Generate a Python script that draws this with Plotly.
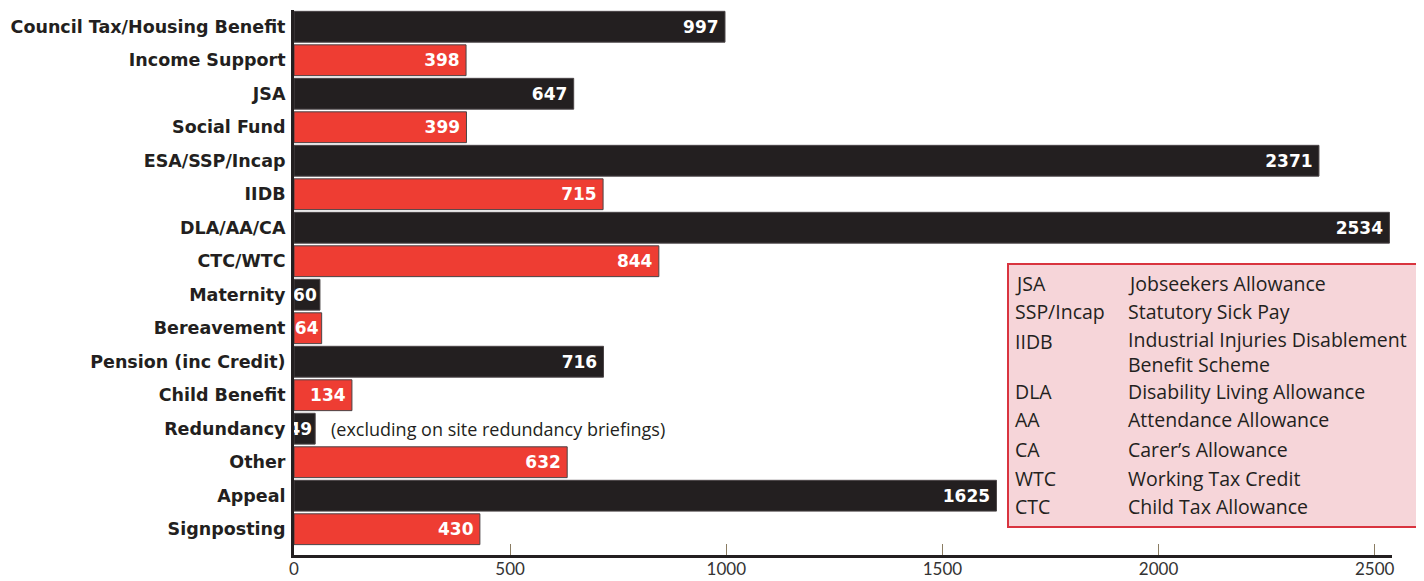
import plotly.graph_objects as go

categories = [
    "Council Tax/Housing Benefit", "Income Support", "JSA", "Social Fund",
    "ESA/SSP/Incap", "IIDB", "DLA/AA/CA", "CTC/WTC", "Maternity",
    "Bereavement", "Pension (inc Credit)", "Child Benefit", "Redundancy",
    "Other", "Appeal", "Signposting",
]
values = [997, 398, 647, 399, 2371, 715, 2534, 844, 60, 64, 716, 134, 49, 632, 1625, 430]
x_ticks = [0, 500, 1000, 1500, 2000, 2500]

glossary_abbr = ["JSA", "SSP/Incap", "IIDB", "DLA", "AA", "CA", "WTC", "CTC"]
glossary_desc = ["Jobseekers Allowance", "Statutory Sick Pay",
                 "Industrial Injuries Disablement<br>Benefit Scheme",
                 "Disability Living Allowance", "Attendance Allowance",
                 "Carer\u2019s Allowance", "Working Tax Credit", "Child Tax Allowance"]
glossary_abbr_px = [283, 312, 341, 391, 420, 449, 478, 506]
glossary_desc_px = [283, 312, 351.5, 391, 420, 449, 478, 506]

note_text = "(excluding on site redundancy briefings)"

BLACK = "#231f20"
RED = "#ee3d33"
colors = [BLACK if i % 2 == 0 else RED for i in range(len(categories))]

# page body has an 8px margin; figure sized/positioned to compensate
OFF = 8
W, H = 1424 - OFF, 581 - OFF
ML, MR, MT, MB = 294 - OFF, 32, 10 - OFF, 26
PW, PH = W - ML - MR, H - MT - MB

def px_x(x):
    return (x - OFF - ML) / PW

def px_y(y):
    return (H - MB - (y - OFF)) / PH

BOLD = "DejaVu Sans"
REG = "Open Sans"

fig = go.Figure()
fig.add_trace(go.Bar(
    y=categories, x=values, orientation="h",
    marker=dict(color=colors, line=dict(color="#4a4446", width=1)),
    text=[str(v) + ("\u2009" if v >= 100 else "") for v in values],
    textposition="inside", insidetextanchor="end", constraintext="none",
    textangle=0,
    textfont=dict(family=BOLD, size=17, color="white", weight="bold"),
    cliponaxis=False,
    width=0.92,
    hoverinfo="x+y",
))

fig.add_annotation(
    x=82, y="Redundancy", xref="x", yref="y", text=note_text, showarrow=False,
    xanchor="left", yanchor="middle",
    font=dict(family=REG, size=18, color="#231f20"),
)

fig.add_shape(
    type="rect", xref="paper", yref="paper",
    x0=px_x(1008), x1=px_x(1422), y0=px_y(527), y1=px_y(264),
    fillcolor="#f6d5d9", line=dict(color="#d9343f", width=2), layer="above",
)
for abbr, ypx in zip(glossary_abbr, glossary_abbr_px):
    fig.add_annotation(x=px_x(1013), y=px_y(ypx), xref="paper", yref="paper",
                       text=abbr, showarrow=False, xanchor="left", yanchor="middle",
                       font=dict(family=REG, size=19.5, color="#231f20"))
for desc, ypx in zip(glossary_desc, glossary_desc_px):
    fig.add_annotation(x=px_x(1126), y=px_y(ypx), xref="paper", yref="paper",
                       text=desc, showarrow=False, xanchor="left", yanchor="middle",
                       align="left",
                       font=dict(family=REG, size=19.5, color="#231f20"))

fig.update_layout(
    width=W, height=H,
    margin=dict(l=ML, r=MR, t=MT, b=MB, autoexpand=False),
    plot_bgcolor="white", paper_bgcolor="white",
    showlegend=False,
    bargap=0.08,
    xaxis=dict(
        range=[0, 2540], tickvals=x_ticks, ticktext=[str(t) for t in x_ticks],
        showgrid=False, zeroline=False,
        showline=True, linecolor="#231f20", linewidth=3,
        ticks="inside", ticklen=11, tickcolor="#8a7c62", tickwidth=1,
        ticklabelstandoff=-3,
        tickfont=dict(family="Liberation Sans Narrow, Lato", size=17, color="#333333"),
        fixedrange=True,
    ),
    yaxis=dict(
        type="category", range=[15.77, -0.5],
        showgrid=False, zeroline=False,
        showline=True, linecolor="#231f20", linewidth=3,
        ticks="", ticklabelstandoff=2,
        tickfont=dict(family=BOLD, size=17.5, color="#231f20", weight="bold"),
        fixedrange=True,
    ),
)

fig.write_html("out.html")
